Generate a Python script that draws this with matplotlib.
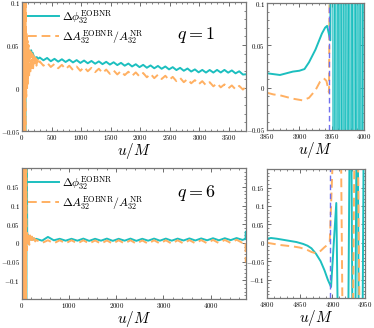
import numpy as np
import matplotlib
matplotlib.use("Agg")
import matplotlib.pyplot as plt
from matplotlib.ticker import FuncFormatter, MultipleLocator, AutoMinorLocator

plt.rcParams['mathtext.fontset'] = 'cm'
plt.rcParams['font.family'] = ['DejaVu Serif']

CYAN = '#1cbfbf'
ORANGE = '#ffb062'
BLUE = '#7070ee'

# ---------------- q = 1, long panel ----------------
q1_early_x = [0, 2.5, 5, 7.5, 10, 12.5, 15, 17.5, 20, 22.5, 25, 27.5, 30, 32.5, 35, 37.5, 40,
              42.5, 45, 47.5, 50, 52.5, 55, 57.5, 60]
q1_early_amp = [0.3, -0.3, 0.3, -0.3, 0.3, -0.3, 0.3, -0.3, 0.3, -0.3, 0.3, -0.3, 0.3, -0.3,
                0.3, -0.3, 0.3, -0.3, 0.3, -0.3, 0.3, -0.3, 0.3, -0.3, 0.3]
q1_amp_tr_x = [65, 72, 79, 86, 93, 100, 110, 120, 130, 140, 150, 162, 175, 188, 200, 215, 230,
               245, 260, 280]
q1_amp_tr_y = [0.07, -0.01, 0.065, 0.0, 0.055, 0.005, 0.05, 0.012, 0.045, 0.016, 0.042, 0.02,
               0.04, 0.023, 0.037, 0.025, 0.035, 0.026, 0.033, 0.027]
q1_early_phase_x = [0, 5, 10, 15, 20, 25, 30, 35, 40, 45, 50, 55]
q1_early_phase = [0.3, -0.3, 0.3, -0.3, 0.3, -0.3, 0.3, -0.3, 0.3, -0.3, 0.3, -0.3]
q1_ph_tr_x = [60, 65, 70, 78, 85, 95, 105, 115, 125, 140, 155, 165, 180, 200, 225, 250, 275]
q1_ph_tr_y = [0.06, 0.02, 0.06, 0.03, 0.05, 0.035, 0.045, 0.036, 0.04, 0.037, 0.044, 0.04,
              0.041, 0.037, 0.035, 0.036, 0.034]
q1_main_x = list(np.arange(300, 3738, 62.5)) + [3790]
q1_phase = [0.0355, 0.0323, 0.0350, 0.0312, 0.0340, 0.0307, 0.0335, 0.0303, 0.0330, 0.0298,
            0.0325, 0.0292, 0.0320, 0.0288, 0.0315, 0.0283, 0.0310, 0.0278, 0.0305, 0.0273,
            0.0300, 0.0267, 0.0293, 0.0260, 0.0285, 0.0251, 0.0277, 0.0243, 0.0270, 0.0236,
            0.0263, 0.0230, 0.0257, 0.0224, 0.0251, 0.0217, 0.0243, 0.0209, 0.0235, 0.0201,
            0.0227, 0.0192, 0.0217, 0.0183, 0.0211, 0.0180, 0.0210, 0.0180, 0.0211, 0.0181,
            0.0211, 0.0179, 0.0205, 0.0171, 0.0195, 0.0157, 0.0160]
q1_amp = [0.0310, 0.0260, 0.0295, 0.0245, 0.0280, 0.0230, 0.0270, 0.0220, 0.0260, 0.0210,
          0.0250, 0.0200, 0.0245, 0.0195, 0.0235, 0.0185, 0.0225, 0.0175, 0.0215, 0.0165,
          0.0205, 0.0158, 0.0198, 0.0150, 0.0190, 0.0142, 0.0182, 0.0135, 0.0175, 0.0125,
          0.0165, 0.0115, 0.0155, 0.0105, 0.0143, 0.0093, 0.0130, 0.0080, 0.0118, 0.0068,
          0.0105, 0.0055, 0.0092, 0.0043, 0.0080, 0.0032, 0.0068, 0.0020, 0.0055, 0.0008,
          0.0042, -0.0005, 0.0030, -0.0015, 0.0025, -0.0018, 0.0015]

# ---------------- q = 1, merger zoom ----------------
q1z_phase_x = [3850, 3860, 3870, 3880, 3890, 3900, 3908, 3915, 3925, 3935, 3940, 3943, 3948,
               3949.5, 3951]
q1z_phase = [0.017, 0.016, 0.015, 0.017, 0.019, 0.020, 0.022, 0.030, 0.045, 0.064, 0.071,
             0.073, 0.056, 0.3, 0.3]
q1z_ring_x = [3951, 3953, 3955.5, 3957.5, 3960, 3962, 3964, 3966.5, 3968.5, 3970.5, 3973,
              3975, 3977, 3979.5, 3981.5, 3983.5, 3986, 3988, 3990, 3992.5, 3994.5, 3996.5,
              3999, 4001]
q1z_ring = [1, -1, 1, -1, 1, -1, 1, -1, 1, -1, 1, -1, 1, -1, 1, -1, 1, -1, 1, -1, 1, -1, 1, -1]
q1z_amp_x = [3850, 3860, 3870, 3880, 3890, 3905, 3915, 3925, 3932, 3938, 3942, 3946, 3948,
             4000]
q1z_amp = [-0.006, -0.008, -0.009, -0.011, -0.013, -0.015, -0.012, -0.003, 0.007, 0.011,
           0.008, -0.006, 0.3, 0.3]
q1_merger = 3946

# ---------------- q = 6, long panel ----------------
q6_early_x = [0, 3, 6, 9, 12, 15, 18, 21, 24, 27, 30, 33, 36, 39, 42, 45, 48, 51, 54, 57, 60,
              63, 66, 69, 72, 75, 78, 81, 84, 87, 90]
q6_early_amp = [0.5, -0.5, 0.5, -0.5, 0.5, -0.5, 0.5, -0.5, 0.5, -0.5, 0.5, -0.5, 0.5, -0.5,
                0.5, -0.5, 0.5, -0.5, 0.5, -0.5, 0.5, -0.5, 0.5, -0.5, 0.5, -0.5, 0.5, -0.5,
                0.5, -0.5, 0.5]
q6_amp_tr_x = [95, 105, 115, 125, 140, 155, 170, 190, 210, 235, 260, 280]
q6_amp_tr_y = [0.04, -0.02, 0.03, -0.01, 0.025, -0.005, 0.02, 0.0, 0.017, 0.002, 0.013, 0.004]
q6_early_phase_x = [0, 6, 12, 18, 24, 30, 36, 42, 48, 54, 60, 66, 72, 78, 84, 90, 96]
q6_early_phase = [0.5, -0.5, 0.5, -0.5, 0.5, -0.5, 0.5, -0.5, 0.5, -0.5, 0.5, -0.5, 0.5, -0.5,
                  0.5, -0.5, 0.5]
q6_ph_tr_x = [110, 120, 135, 150, 170, 200, 230, 260]
q6_ph_tr_y = [0.03, 0.0, 0.02, 0.005, 0.015, 0.008, 0.013, 0.008]
q6_main_x = list(np.arange(300, 4676, 125))
q6_phase = [0.011, 0.006, 0.016, 0.007, 0.011, 0.006, 0.011, 0.006, 0.0115, 0.0055, 0.011,
            0.006, 0.0115, 0.0055, 0.011, 0.006, 0.0115, 0.0055, 0.011, 0.006, 0.0115, 0.006,
            0.0115, 0.006, 0.0115, 0.0065, 0.012, 0.0065, 0.012, 0.007, 0.0125, 0.007, 0.0125,
            0.0075, 0.013, 0.008]
q6_amp = [0.008, 0.0, 0.007, -0.001, 0.007, -0.001, 0.007, -0.0015, 0.007, -0.0015, 0.0065,
          -0.002, 0.0065, -0.002, 0.007, -0.0015, 0.007, -0.002, 0.0065, -0.002, 0.007,
          -0.0015, 0.007, -0.002, 0.007, -0.0015, 0.0075, -0.001, 0.0075, -0.001, 0.008,
          -0.0005, 0.008, 0.0, 0.0085, 0.0]
q6_end_x = [4720, 4740, 4744, 4750]
q6_end_phase = [0.01, 0.01, 0.03, 0.03]
q6_end_amp = [0.004, 0.0, -0.05, -0.05]

# ---------------- q = 6, merger zoom ----------------
q6z_phase_x = [4800, 4806, 4815, 4825, 4835, 4845, 4855, 4862, 4868, 4875, 4882, 4888, 4893,
               4898, 4906, 4909, 4924, 4926.5, 4929, 4931, 4935, 4937, 4939, 4940.5, 4946, 4948,
               4950]
q6z_phase = [0.011, 0.013, 0.011, 0.008, 0.005, 0.002, -0.003, -0.008, -0.015, -0.03, -0.05,
             -0.075, -0.1, -0.12, 0.108, -0.3, -0.3, 0.3, 0.3, -0.3, -0.3, 0.3, 0.3, -0.3, -0.3,
             0.3, 0.3]
q6z_amp_x = [4800, 4810, 4820, 4830, 4840, 4850, 4860, 4868, 4874, 4882, 4888, 4893, 4896,
             4902, 4913, 4916, 4931, 4934, 4939, 4942, 4950]
q6z_amp = [0.0, -0.003, -0.006, -0.008, -0.010, -0.013, -0.018, -0.025, -0.028, -0.022,
           -0.012, -0.005, 0.002, 0.3, 0.3, -0.3, -0.3, 0.3, 0.3, -0.3, -0.3]
q6_merger = 4896

PHASE_LABEL = r'$\Delta\phi_{32}^{\rm EOBNR}$'
AMP_LABEL = r'$\Delta A_{32}^{\rm EOBNR}/A_{32}^{\rm NR}$'

fig = plt.figure(figsize=(3.74, 3.28), dpi=100)
axTL = fig.add_axes([0.0588, 0.6006, 0.599, 0.393])
axTR = fig.add_axes([0.714, 0.6037, 0.259, 0.387])
axBL = fig.add_axes([0.0588, 0.0884, 0.599, 0.399])
axBR = fig.add_axes([0.714, 0.0914, 0.262, 0.393])

fmt = FuncFormatter(lambda v, p: '$0$' if abs(v) < 1e-12 else '$%g$' % v)

def style(ax):
    ax.tick_params(which='both', direction='in', top=True, right=True, labelsize=5.0,
                   colors='#555555', pad=1.5)
    ax.tick_params(which='major', length=3, width=0.6)
    ax.tick_params(which='minor', length=1.5, width=0.5)
    ax.xaxis.set_minor_locator(AutoMinorLocator(5))
    ax.yaxis.set_minor_locator(AutoMinorLocator(5))
    ax.xaxis.set_major_formatter(fmt)
    ax.yaxis.set_major_formatter(fmt)
    for s in ax.spines.values():
        s.set_color('#777777')
        s.set_linewidth(0.9)
    ax.set_xlabel(r'$u/M$', fontsize=11, labelpad=-0.8)
    for lab in ax.get_xticklabels() + ax.get_yticklabels():
        lab.set_color('black')

lw = 1.4
dash = (0, (4.5, 2.5))

# Top-left
axTL.plot(q1_early_phase_x + q1_ph_tr_x + q1_main_x,
          q1_early_phase + q1_ph_tr_y + q1_phase, color=CYAN, lw=lw, label=PHASE_LABEL)
axTL.plot(q1_early_x + q1_amp_tr_x + q1_main_x, q1_early_amp + q1_amp_tr_y + q1_amp,
          color=ORANGE, lw=lw, linestyle=dash, label=AMP_LABEL)
axTL.set_xlim(0, 3790)
axTL.set_ylim(-0.05, 0.1)
axTL.xaxis.set_major_locator(MultipleLocator(500))
axTL.yaxis.set_major_locator(MultipleLocator(0.05))
axTL.text(0.69, 0.745, r'$q=1$', transform=axTL.transAxes, fontsize=13, va='center')
axTL.legend(loc='upper left', frameon=False, fontsize=8.5, handlelength=2.6,
            borderaxespad=0.1, handletextpad=0.3, labelspacing=0.15)
style(axTL)

# Top-right
axTR.plot(q1z_amp_x, q1z_amp, color=ORANGE, lw=lw, linestyle=dash)
axTR.plot(q1z_phase_x, q1z_phase, color=CYAN, lw=lw)
axTR.plot(q1z_ring_x, q1z_ring, color=CYAN, lw=0.8)
axTR.axvline(q1_merger, color=BLUE, lw=1.0, linestyle=(0, (4, 2.5)))
axTR.set_xlim(3850, 4000)
axTR.set_ylim(-0.05, 0.1)
axTR.xaxis.set_major_locator(MultipleLocator(50))
axTR.yaxis.set_major_locator(MultipleLocator(0.05))
style(axTR)

# Bottom-left
axBL.plot(q6_early_phase_x + q6_ph_tr_x + q6_main_x + q6_end_x,
          q6_early_phase + q6_ph_tr_y + q6_phase + q6_end_phase, color=CYAN, lw=lw,
          label=PHASE_LABEL)
axBL.plot(q6_early_x + q6_amp_tr_x + q6_main_x + q6_end_x,
          q6_early_amp + q6_amp_tr_y + q6_amp + q6_end_amp, color=ORANGE, lw=lw,
          linestyle=dash, label=AMP_LABEL)
axBL.set_xlim(0, 4750)
axBL.set_ylim(-0.15, 0.2)
axBL.xaxis.set_major_locator(MultipleLocator(1000))
axBL.set_yticks([-0.1, -0.05, 0, 0.05, 0.1, 0.15])
axBL.text(0.69, 0.81, r'$q=6$', transform=axBL.transAxes, fontsize=13, va='center')
axBL.legend(loc='upper left', frameon=False, fontsize=8.5, handlelength=2.6,
            borderaxespad=0.1, handletextpad=0.3, labelspacing=0.15)
style(axBL)

# Bottom-right
axBR.plot(q6z_phase_x, q6z_phase, color=CYAN, lw=lw)
axBR.plot(q6z_amp_x, q6z_amp, color=ORANGE, lw=lw, linestyle=dash)
axBR.axvline(q6_merger, color=BLUE, lw=1.0, linestyle=(0, (4, 2.5)))
axBR.set_xlim(4800, 4950)
axBR.set_ylim(-0.15, 0.2)
axBR.xaxis.set_major_locator(MultipleLocator(50))
axBR.set_yticks([-0.1, -0.05, 0, 0.05, 0.1, 0.15])
style(axBR)

fig.savefig('out.png', dpi=100)
